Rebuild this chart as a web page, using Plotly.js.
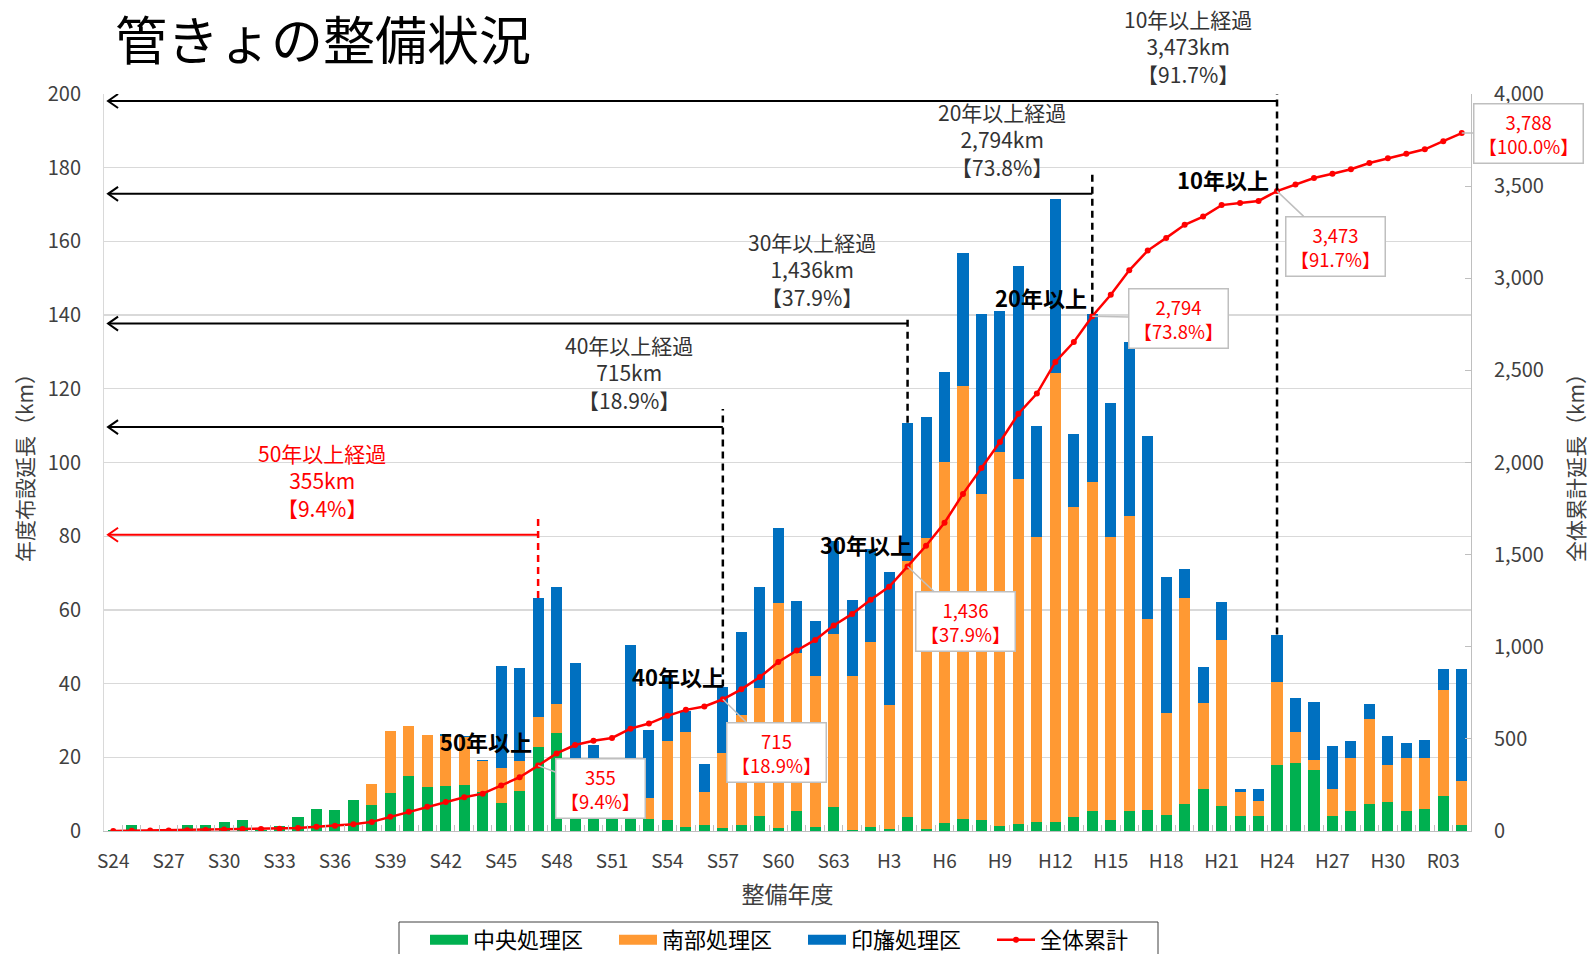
<!DOCTYPE html>
<html><head><meta charset="utf-8">
<script src="https://cdn.plot.ly/plotly-3.0.1.min.js"></script>
<style>html,body{margin:0;padding:0;background:#fff}#chart{width:1591px;height:954px}</style>
</head><body><div id="chart"></div>
<script>
const categories = ['S24','S25','S26','S27','S28','S29','S30','S31','S32','S33','S34','S35','S36','S37','S38','S39','S40','S41','S42','S43','S44','S45','S46','S47','S48','S49','S50','S51','S52','S53','S54','S55','S56','S57','S58','S59','S60','S61','S62','S63','H1','H2','H3','H4','H5','H6','H7','H8','H9','H10','H11','H12','H13','H14','H15','H16','H17','H18','H19','H20','H21','H22','H23','H24','H25','H26','H27','H28','H29','H30','R01','R02','R03','R04'];
// 中央処理区
const central = [0.3,1.6,0.3,0.4,1.6,1.6,2.4,2.9,0.3,1.4,3.7,6.0,5.7,8.5,7.0,10.2,14.8,12.0,12.3,12.6,10.6,7.6,10.8,22.7,26.5,12.0,5.0,5.0,4.0,3.3,3.1,1.1,1.5,0.8,1.5,4.0,0.8,5.3,1.1,6.4,0.4,1.1,0.6,3.7,0.6,2.2,3.2,3.0,1.4,2.0,2.5,2.5,3.7,5.5,3.0,5.5,5.7,4.4,7.4,11.4,6.8,4.0,4.0,18.0,18.5,16.6,4.0,5.5,7.2,8.0,5.5,6.1,9.4,1.7];
// 南部処理区
const south = [0,0,0,0,0,0,0,0,0,0,0,0,0,0,5.8,17.0,13.6,14.1,13.6,12.9,8.3,9.5,8.3,8.3,8.1,5.0,2.0,1.0,1.0,5.7,21.2,25.8,9.2,20.5,30.0,34.9,61.1,43.0,40.9,47.0,41.7,50.3,33.6,69.5,78.9,98.0,117.5,88.5,101.5,93.6,77.2,121.9,84.1,89.1,76.9,79.9,51.8,27.6,55.8,23.4,45.0,6.7,4.1,22.5,8.3,2.6,7.4,14.2,23.3,9.8,14.2,13.6,29.0,11.9];
// 印旛処理区
const inba = [0,0,0,0,0,0,0,0,0,0,0,0,0,0,0,0,0,0,0.4,0.4,0.5,27.7,25.1,32.2,31.7,28.5,16.3,9.0,45.5,18.4,17.7,5.6,7.6,17.9,22.4,27.4,20.2,14.2,15.1,25.4,20.5,25.1,36.2,37.6,32.8,24.3,36.2,48.8,38.2,57.8,30.1,47.2,19.9,45.8,36.3,47.2,49.8,36.9,8.0,9.8,10.3,0.7,3.3,12.8,9.2,15.8,11.6,4.6,4.0,7.9,4.2,4.9,5.6,30.4];
// 全体累計
const cumulative = [0.3,1.9,2.2,2.6,4.2,5.8,8.2,11.1,11.4,12.8,16.5,22.5,28.2,36.7,49.5,76.7,105.1,131.2,157.5,183.4,202.8,247.6,291.8,355.0,421.3,466.8,490.1,505.1,555.6,583.0,625.0,657.5,675.8,715.0,768.9,835.2,917.3,979.8,1036.9,1115.7,1178.3,1254.8,1325.2,1436.0,1548.3,1672.8,1829.7,1970.0,2111.1,2264.5,2374.3,2545.9,2653.6,2794.0,2910.2,3042.8,3150.1,3219.0,3290.2,3334.8,3396.9,3408.3,3419.7,3473.0,3509.0,3544.0,3567.0,3591.3,3625.8,3651.5,3675.4,3700.0,3744.0,3788.0];
const seriesNames = ['中央処理区','南部処理区','印旛処理区','全体累計'];
const seriesColors = ['#00B050','#FF9933','#0070C0','#FF0000'];
const milestoneCats = ['S47','S57','H4','H14','H24'];
const milestoneYears = [50,40,30,20,10];
const calloutCats = ['S47','S57','H4','H14','H24','R04'];

// layout-only positions for decorations
const arrowLevels = [80.4,109.6,137.7,172.9,198.1];
const dashTops = [84.8,114.5,139.9,179.2,200];
const textX = [11.3,27.9,37.85,48.1,58.2];
const ageLabelShift = [[-4,6.5],[3,5.5],[6,4.5],[-3,1.5],[-6,-5.5]];
const calloutOffsets = [[62,23],[54,53],[58,55],[86,2],[58,55],[67,0]];

const FONT = '"Noto Sans CJK JP", "Noto Sans", sans-serif';
const total = cumulative[cumulative.length-1];
const fmt = v => Math.round(v).toLocaleString('en-US');
const pct = v => (v/total*100).toFixed(1);

const barData = [central, south, inba];
const traces = [];
barData.forEach((arr,k)=>{
  traces.push({type:'bar', name:seriesNames[k], x:categories, y:arr, marker:{color:seriesColors[k]}, showlegend:false, legendgroup:'g'+k});
});
traces.push({type:'scatter', mode:'lines+markers', name:seriesNames[3], x:categories, y:cumulative, yaxis:'y2',
   line:{color:seriesColors[3], width:2.5}, marker:{color:seriesColors[3], size:6}, showlegend:false, legendgroup:'g3'});
// legend entries (wide swatches like the reference)
barData.forEach((arr,k)=>{
  traces.push({type:'scatter', mode:'lines', name:seriesNames[k], x:[null], y:[null], line:{color:seriesColors[k], width:11}, legendgroup:'g'+k});
});
traces.push({type:'scatter', mode:'lines+markers', name:seriesNames[3], x:[null], y:[null], yaxis:'y2',
   line:{color:seriesColors[3], width:2.5}, marker:{color:seriesColors[3], size:6}, legendgroup:'g3'});

const shapes = [];
const annotations = [];
milestoneCats.forEach((c,i)=>{
  const idx = categories.indexOf(c);
  const barTop = central[idx]+south[idx]+inba[idx];
  const color = i===0 ? '#FF0000' : '#000000';
  shapes.push({type:'line', xref:'x', yref:'y', x0:-0.28, x1:idx, y0:arrowLevels[i], y1:arrowLevels[i], line:{color:color, width:2}});
  shapes.push({type:'path', xref:'x', yref:'y', xsizemode:'pixel', ysizemode:'pixel', xanchor:-0.28, yanchor:arrowLevels[i],
    path:'M 10,7 L 0,0 L 10,-7', line:{color:color, width:2}});
  shapes.push({type:'line', xref:'x', yref:'y', x0:idx, x1:idx, y0:barTop, y1:dashTops[i], line:{color:color, width:2.5, dash:'7px,5px'}});
  annotations.push({xref:'x', yref:'y', x:textX[i], y:arrowLevels[i], yanchor:'bottom', yshift:10, showarrow:false, align:'center',
    text: milestoneYears[i]+'年以上経過<br>'+fmt(cumulative[idx])+'km<br>【'+pct(cumulative[idx])+'%】',
    font:{size:21, color: i===0 ? '#FF0000' : '#333333', family:FONT}});
  annotations.push({xref:'x', yref:'y2', x:idx, y:cumulative[idx], xanchor:'right', yanchor:'bottom',
    xshift:ageLabelShift[i][0], yshift:ageLabelShift[i][1], showarrow:false,
    text:'<b>'+milestoneYears[i]+'年以上</b>', font:{size:22, color:'#000000', family:FONT}});
});
calloutCats.forEach((c,i)=>{
  const idx = categories.indexOf(c);
  annotations.push({xref:'x', yref:'y2', x:idx, y:cumulative[idx], showarrow:true, arrowhead:0, arrowwidth:1.5, arrowcolor:'#BFBFBF',
    ax:calloutOffsets[i][0], ay:calloutOffsets[i][1], standoff:0,
    text: fmt(cumulative[idx])+'<br>【'+pct(cumulative[idx])+'%】',
    bgcolor:'#FFFFFF', bordercolor:'#BFBFBF', borderwidth:1.5, borderpad:4,
    font:{size:18.5, color:'#FF0000', family:FONT}});
});
// legend frame (reference has wide left padding)
shapes.push({type:'rect', xref:'paper', yref:'paper', x0:(399-104)/1367, x1:(1158-104)/1367,
  y0:(831-922)/737, y1:(831-975)/737, line:{color:'#404040', width:1}, fillcolor:'rgba(0,0,0,0)'});

const layout = {
  width:1591, height:954,
  margin:{l:104, r:120, t:94, b:123, autoexpand:false},
  paper_bgcolor:'#FFFFFF', plot_bgcolor:'#FFFFFF',
  font:{family:FONT, color:'#404040'},
  title:{text:'管きょの整備状況', font:{size:52, color:'#000000', family:FONT},
    x:115/1591, xanchor:'left', xref:'container', y:1-42/954, yanchor:'middle', yref:'container'},
  barmode:'stack', bargap:0.4,
  showlegend:true,
  legend:{orientation:'h', x:(425-104)/1367, xanchor:'left', y:(831-919)/737, yanchor:'top',
    font:{size:22, color:'#000000', family:FONT}, borderwidth:0, bgcolor:'rgba(0,0,0,0)',
    traceorder:'normal', entrywidth:136, itemwidth:38},
  xaxis:{type:'category', range:[-0.5,73.5], autorange:false, tickvals:categories,
    ticktext:categories.map((c,i)=> i%3===0 ? c : ''), tickson:'boundaries', ticks:'inside', ticklen:6,
    tickcolor:'#BFBFBF', showline:true, linecolor:'#BFBFBF', showgrid:false, tickangle:0,
    tickfont:{size:19, color:'#404040'}, ticklabelstandoff:13,
    title:{text:'整備年度', font:{size:23, color:'#404040'}, standoff:15}},
  yaxis:{range:[0,200], autorange:false, dtick:20, showgrid:true, gridcolor:'#D9D9D9', gridwidth:1.3,
    showline:true, linecolor:'#D9D9D9', zeroline:false, ticks:'', tickfont:{size:20, color:'#404040'},
    ticklabelstandoff:18, title:{text:'年度布設延長（km）', font:{size:21, color:'#404040'}, standoff:8}},
  yaxis2:{overlaying:'y', side:'right', range:[0,4000], autorange:false, dtick:500, tickformat:',d',
    showgrid:false, showline:true, linecolor:'#BFBFBF', ticks:'inside', ticklen:6, tickcolor:'#BFBFBF',
    zeroline:false, tickfont:{size:20, color:'#404040'}, ticklabelstandoff:18,
    title:{text:'全体累計延長（km）', font:{size:21, color:'#404040'}, standoff:26}},
  shapes:shapes, annotations:annotations, hovermode:false
};
Plotly.newPlot('chart', traces, layout, {displayModeBar:false, staticPlot:true});
</script>
</body></html>
